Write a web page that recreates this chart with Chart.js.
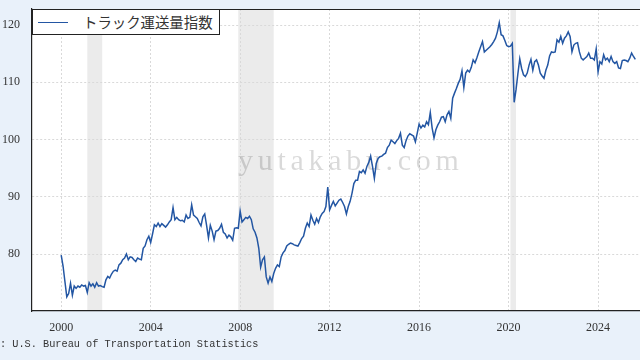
<!DOCTYPE html>
<html><head><meta charset="utf-8">
<script src="https://cdn.jsdelivr.net/npm/chart.js@4"></script>
<style>
html,body{margin:0;padding:0;background:#e9f1fa;width:640px;height:360px;overflow:hidden;}
#wrap{position:relative;width:640px;height:360px;}
canvas{display:block;}
#legend{position:absolute;left:32px;top:9px;width:186px;height:24px;background:#fff;border:1px solid #222;font-family:"Noto Sans CJK JP";font-size:14.4px;color:#333;}
#legend .swatch{position:absolute;left:5px;top:11.5px;width:30px;height:0;border-top:1.5px solid #2356a3;}
#legend .label{position:absolute;left:50px;top:0;line-height:24px;white-space:nowrap;}
#source{position:absolute;left:0;top:338px;font-family:"Liberation Mono";font-size:10.25px;color:#333;white-space:nowrap;}
</style></head>
<body>
<div id="wrap">
<canvas id="c" width="640" height="360"></canvas>
<div id="legend"><span class="swatch"></span><span class="label" id="legendLabel"></span></div>
<div id="source">: U.S. Bureau of Transportation Statistics</div>
</div>
<script>
const seriesName = 'トラック運送量指数';
const startYear = 2000;
const y2000 = [79.8, 77.9, 75.2, 72.5, 73.1, 74.9, 72.8, 74.4, 74.0, 74.4, 74.2, 74.6];
const y2001 = [74.4, 74.5, 73.3, 75.0, 74.4, 74.8, 74.2, 75.0, 74.4, 74.5, 74.3, 74.2];
const y2002 = [75.5, 76.1, 75.8, 76.5, 77.0, 77.2, 77.0, 78.1, 78.4, 79.0, 79.3, 80.0];
const y2003 = [79.0, 79.5, 79.4, 79.0, 78.7, 79.3, 79.1, 79.0, 81.0, 81.4, 82.5, 83.1];
const y2004 = [82.0, 83.5, 85.1, 84.8, 85.4, 84.8, 85.3, 85.0, 84.7, 85.1, 85.6, 86.0];
const y2005 = [88.1, 86.0, 86.4, 86.0, 85.8, 85.9, 85.6, 86.8, 86.2, 86.4, 88.6, 86.8];
const y2006 = [86.5, 86.2, 85.5, 84.9, 86.5, 87.0, 85.0, 82.8, 85.0, 84.0, 82.5, 84.0];
const y2007 = [84.1, 84.5, 85.2, 83.8, 83.5, 82.8, 83.3, 83.0, 82.4, 84.5, 84.6, 84.5];
const y2008 = [87.5, 85.6, 86.0, 86.4, 86.2, 86.6, 86.0, 84.4, 83.8, 82.8, 81.0, 77.7];
const y2009 = [79.0, 79.5, 76.0, 74.9, 76.0, 75.2, 76.6, 77.5, 78.1, 77.8, 79.5, 80.2];
const y2010 = [80.6, 81.4, 81.7, 81.9, 81.8, 81.6, 81.5, 81.4, 82.0, 82.7, 83.1, 84.5];
const y2011 = [85.4, 84.8, 86.8, 85.9, 85.2, 86.2, 85.5, 86.5, 87.1, 87.4, 88.3, 91.7];
const y2012 = [87.7, 88.5, 89.2, 88.4, 88.9, 89.4, 89.6, 89.0, 88.3, 87.0, 88.3, 89.2];
const y2013 = [90.6, 92.3, 92.9, 92.9, 94.4, 94.2, 94.7, 94.1, 95.3, 96.0, 97.1, 95.3];
const y2014 = [93.2, 95.8, 96.7, 97.0, 97.1, 97.4, 97.6, 98.6, 99.0, 99.9, 99.6, 99.3];
const y2015 = [99.8, 100.2, 101.1, 99.0, 98.6, 99.8, 100.6, 101.0, 100.8, 100.6, 99.6, 101.1];
const y2016 = [102.7, 102.0, 102.5, 102.2, 103.1, 102.6, 104.7, 102.0, 100.3, 101.7, 102.5, 103.1];
const y2017 = [103.9, 104.0, 103.1, 104.3, 104.9, 103.7, 107.2, 108.1, 108.9, 109.8, 110.5, 112.0];
const y2018 = [109.1, 111.6, 112.1, 111.8, 112.6, 113.9, 113.4, 114.3, 115.3, 116.2, 117.1, 115.3];
const y2019 = [115.6, 115.9, 116.2, 116.6, 117.1, 117.7, 118.8, 120.4, 118.3, 118.1, 117.3, 116.4];
const y2020 = [116.2, 116.3, 116.8, 106.5, 108.7, 111.5, 114.1, 112.4, 111.3, 111.0, 111.6, 113.0];
const y2021 = [114.0, 112.1, 113.6, 113.9, 113.0, 111.6, 111.1, 110.7, 112.1, 113.0, 114.6, 115.3];
const y2022 = [115.2, 115.3, 117.4, 117.0, 118.0, 116.8, 117.7, 118.1, 118.8, 118.0, 115.3, 116.5];
const y2023 = [116.8, 116.9, 115.3, 114.2, 113.9, 114.2, 114.5, 115.1, 114.2, 114.2, 113.9, 115.8];
const y2024 = [111.8, 113.6, 113.2, 114.8, 113.9, 114.2, 113.6, 114.5, 113.6, 113.3, 113.6, 112.5];
const y2025 = [112.4, 113.8, 113.9, 113.8, 113.6, 114.2, 115.1, 114.5, 114.0];
const recessions = [[2001.167, 2001.833], [2007.917, 2009.5], [2020.083, 2020.333]];
const xTickYears = [2000, 2004, 2008, 2012, 2016, 2020, 2024];
const yTickValues = [80, 90, 100, 110, 120];
const sourceText = ': U.S. Bureau of Transportation Statistics';
const watermarkText = 'yutakabu.com';

const monthly = [].concat(y2000, y2001, y2002, y2003, y2004, y2005, y2006, y2007, y2008,
  y2009, y2010, y2011, y2012, y2013, y2014, y2015, y2016, y2017, y2018, y2019, y2020,
  y2021, y2022, y2023, y2024, y2025);
const points = monthly.map((v, i) => ({x: startYear + i / 12, y: v}));

document.getElementById('legendLabel').textContent = seriesName;
document.getElementById('source').textContent = sourceText;

const zeroPad = s => { s.paddingTop = 0; s.paddingBottom = 0; s.paddingLeft = 0; s.paddingRight = 0; };

const decor = {
  id: 'decor',
  beforeDraw(chart) {
    const {ctx, chartArea: a, scales: {x}} = chart;
    ctx.save();
    ctx.fillStyle = '#ffffff';
    ctx.fillRect(a.left, a.top, a.right - a.left, a.bottom - a.top);
    ctx.fillStyle = '#ebebeb';
    recessions.forEach(([s, e]) => {
      const x1 = x.getPixelForValue(s), x2 = x.getPixelForValue(e);
      ctx.fillRect(x1, a.top, x2 - x1, a.bottom - a.top);
    });
    ctx.restore();
  },
  beforeDatasetsDraw(chart) {
    const {ctx} = chart;
    ctx.save();
    ctx.font = '30px "Liberation Serif"';
    ctx.letterSpacing = '4.7px';
    ctx.fillStyle = 'rgba(0,0,0,0.15)';
    ctx.textAlign = 'left';
    ctx.textBaseline = 'alphabetic';
    ctx.fillText(watermarkText, 238, 170);
    ctx.restore();
  },
  afterDraw(chart) {
    const {ctx, chartArea: a} = chart;
    ctx.save();
    ctx.strokeStyle = '#222';
    ctx.lineWidth = 1.2;
    ctx.beginPath();
    ctx.moveTo(a.left, a.top + 0.5);
    ctx.lineTo(a.right, a.top + 0.5);
    ctx.stroke();
    ctx.restore();
  }
};

new Chart(document.getElementById('c'), {
  type: 'line',
  data: {datasets: [{
    label: seriesName,
    data: points,
    borderColor: '#2356a3',
    borderWidth: 1.5,
    pointRadius: 0,
    tension: 0,
    fill: false
  }]},
  options: {
    responsive: false,
    animation: false,
    devicePixelRatio: 1,
    layout: {padding: {top: 9, left: 0, right: 0, bottom: 0}},
    plugins: {legend: {display: false}, tooltip: {enabled: false}},
    scales: {
      x: {
        type: 'linear',
        min: 1998.695,
        max: 2025.875,
        afterFit: s => { s.height = 49; zeroPad(s); },
        afterBuildTicks: s => { s.ticks = xTickYears.map(v => ({value: v})); },
        ticks: {padding: 10, color: '#333', font: {family: 'Liberation Serif', size: 12},
          maxRotation: 0, autoSkip: false, callback: v => String(v)},
        grid: {color: '#d9d9d9', lineWidth: 1, drawTicks: false},
        border: {display: true, color: '#222', width: 1.2, dash: [2, 2]}
      },
      y: {
        type: 'linear',
        min: 70.045,
        max: 122.795,
        afterFit: s => { s.width = 32; zeroPad(s); },
        afterBuildTicks: s => { s.ticks = yTickValues.map(v => ({value: v})); },
        ticks: {padding: 12, color: '#333', font: {family: 'Liberation Serif', size: 12},
          callback: v => String(v)},
        grid: {color: '#d9d9d9', lineWidth: 1, drawTicks: false},
        border: {display: true, color: '#222', width: 1.2, dash: [2, 2]}
      }
    }
  },
  plugins: [decor]
});
</script>
</body></html>
